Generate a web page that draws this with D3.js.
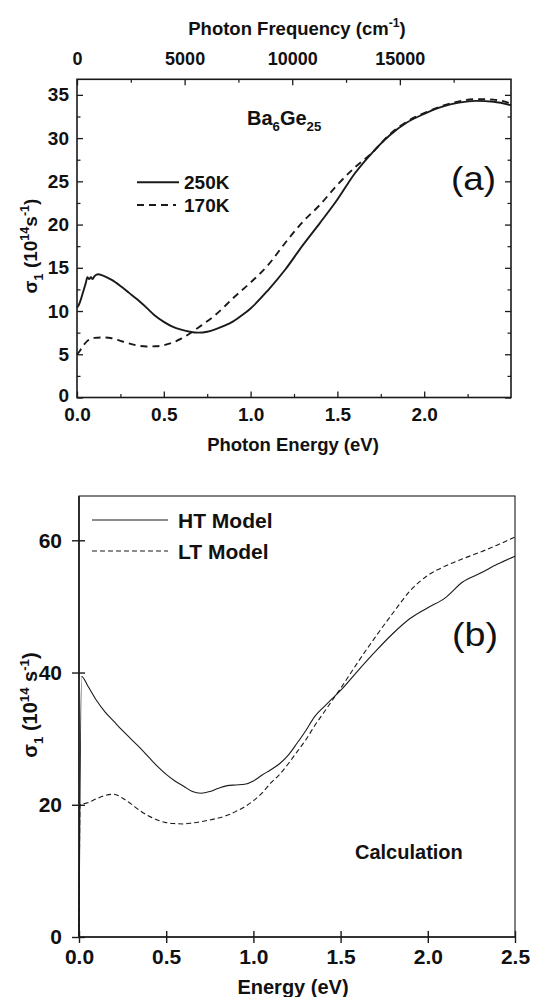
<!DOCTYPE html>
<html>
<head>
<meta charset="utf-8">
<script src="https://cdn.jsdelivr.net/npm/d3@7"></script>
<style>
  body { margin: 0; background: #fff; }
  svg text { font-family: "Liberation Sans", Arial, Helvetica, sans-serif; fill: #111; }
</style>
</head>
<body>
<svg id="chart" width="533" height="997"></svg>
<script>
// ---------- Panel (a): measured optical conductivity of Ba6Ge25 ----------
const energy250K = [0, 0.01, 0.02, 0.035, 0.05, 0.06, 0.07, 0.08, 0.09, 0.1, 0.12, 0.15, 0.2, 0.25, 0.3, 0.35, 0.4, 0.45, 0.5, 0.55, 0.6, 0.65, 0.7, 0.75, 0.8, 0.85, 0.9, 0.95, 1.0, 1.1, 1.2, 1.3, 1.4, 1.5, 1.6, 1.7, 1.8, 1.9, 2.0, 2.1, 2.2, 2.3, 2.4, 2.5];
const sigma250K  = [10.4, 10.7, 11.2, 12.2, 13.2, 13.9, 13.7, 13.9, 13.7, 14.0, 14.25, 14.1, 13.6, 12.9, 12.1, 11.3, 10.4, 9.45, 8.75, 8.2, 7.85, 7.6, 7.5, 7.6, 7.9, 8.3, 8.8, 9.5, 10.3, 12.4, 14.8, 17.6, 20.2, 22.9, 25.9, 28.3, 30.3, 31.8, 32.8, 33.6, 34.1, 34.3, 34.2, 33.8];

const energy170K = [0, 0.02, 0.04, 0.06, 0.08, 0.1, 0.15, 0.2, 0.25, 0.3, 0.35, 0.4, 0.45, 0.5, 0.55, 0.6, 0.65, 0.7, 0.8, 0.9, 1.0, 1.1, 1.2, 1.3, 1.4, 1.5, 1.6, 1.7, 1.8, 1.9, 2.0, 2.1, 2.2, 2.3, 2.4, 2.5];
const sigma170K  = [4.98, 5.5, 6.1, 6.55, 6.8, 6.9, 6.95, 6.85, 6.55, 6.25, 6.0, 5.9, 5.92, 6.05, 6.35, 6.8, 7.4, 8.1, 9.6, 11.5, 13.3, 15.3, 17.9, 20.3, 22.3, 24.6, 26.6, 28.3, 30.4, 31.9, 32.9, 33.7, 34.25, 34.5, 34.45, 34.0];

const energyTicksA = [0, 0.5, 1.0, 1.5, 2.0];
const energyMinorA = [0.25, 0.75, 1.25, 1.75, 2.25];
const sigmaTicksA  = [0, 5, 10, 15, 20, 25, 30, 35];
const sigmaMinorA  = [2.5, 7.5, 12.5, 17.5, 22.5, 27.5, 32.5];
const freqTicks    = [0, 5000, 10000, 15000];
const freqMinor    = [2500, 7500, 12500, 17500];
const legendA      = ["250K", "170K"];

// ---------- Panel (b): model calculation ----------
const energyHT = [0, 0.015, 0.05, 0.1, 0.15, 0.2, 0.25, 0.3, 0.35, 0.4, 0.45, 0.5, 0.55, 0.6, 0.65, 0.7, 0.75, 0.8, 0.85, 0.9, 0.95, 1.0, 1.05, 1.1, 1.15, 1.2, 1.25, 1.3, 1.35, 1.4, 1.45, 1.5, 1.6, 1.7, 1.8, 1.9, 2.0, 2.1, 2.2, 2.3, 2.4, 2.5];
const sigmaHT  = [0, 39.4, 38.0, 35.8, 34.0, 32.6, 31.2, 29.9, 28.6, 27.2, 25.8, 24.6, 23.6, 22.8, 22.0, 21.75, 22.0, 22.5, 22.9, 23.0, 23.1, 23.6, 24.5, 25.3, 26.2, 27.5, 29.3, 31.2, 33.3, 34.7, 36.0, 37.3, 40.3, 43.2, 45.9, 48.2, 49.8, 51.3, 53.7, 55.0, 56.4, 57.6];

const energyLT = [0, 0.006, 0.05, 0.1, 0.15, 0.2, 0.25, 0.3, 0.35, 0.4, 0.45, 0.5, 0.55, 0.6, 0.65, 0.7, 0.75, 0.8, 0.85, 0.9, 0.95, 1.0, 1.05, 1.1, 1.15, 1.2, 1.25, 1.3, 1.35, 1.4, 1.45, 1.5, 1.6, 1.7, 1.8, 1.9, 2.0, 2.1, 2.2, 2.3, 2.4, 2.5];
const sigmaLT  = [0, 20.0, 20.3, 20.9, 21.4, 21.6, 21.0, 20.1, 19.1, 18.3, 17.7, 17.3, 17.15, 17.1, 17.25, 17.45, 17.7, 18.0, 18.4, 19.0, 19.7, 20.6, 21.8, 23.3, 24.6, 26.2, 28.0, 29.8, 31.9, 33.8, 35.7, 37.6, 41.6, 45.4, 49.0, 52.4, 54.7, 56.1, 57.2, 58.2, 59.3, 60.5];

const energyTicksB = [0, 0.5, 1.0, 1.5, 2.0, 2.5];
const sigmaTicksB  = [0, 20, 40, 60];
const legendB      = ["HT Model", "LT Model"];

const CM_PER_EV = 8065.54;
const INK = "#1a1a1a";

const svg = d3.select("#chart");

// text with sub/superscript runs: parts = [[text, "n"|"sup"|"sub"], ...]
function rich(textSel, parts, size) {
  let shift = 0;
  parts.forEach(([t, kind]) => {
    const target = kind === "sup" ? -0.42 * size : kind === "sub" ? 0.3 * size : 0;
    textSel.append("tspan")
      .attr("dy", target - shift)
      .attr("font-size", kind === "n" ? size : size * 0.66)
      .text(t);
    shift = target;
  });
  return textSel;
}

function styleAxis(g, width) {
  g.select(".domain").remove();
  g.selectAll(".tick line").attr("stroke", INK).attr("stroke-width", width);
}

// ================= Panel (a) =================
const xA = d3.scaleLinear().domain([0, 2.5]).range([77, 511]);
const yA = d3.scaleLinear().domain([0, 36.8]).range([397.5, 79.3]);
const xTop = d3.scaleLinear().domain([0, 2.5 * CM_PER_EV]).range([77, 511]);

const gA = svg.append("g");

// bottom axis (inward ticks)
const bA = gA.append("g").attr("transform", `translate(0,${yA(0)})`)
  .call(d3.axisBottom(xA).tickValues(energyTicksA).tickSize(-6).tickPadding(10).tickFormat(d3.format(".1f")));
styleAxis(bA, 1.3);
bA.selectAll("text").attr("font-size", 19).attr("font-weight", "bold").attr("fill", INK).attr("dy", "0.72em");
const bAm = gA.append("g").attr("transform", `translate(0,${yA(0)})`)
  .call(d3.axisBottom(xA).tickValues(energyMinorA).tickSize(-3.5).tickFormat(""));
styleAxis(bAm, 1.2);

// top axis in photon frequency
const tA = gA.append("g").attr("transform", `translate(0,${yA.range()[1]})`)
  .call(d3.axisTop(xTop).tickValues(freqTicks).tickSize(-6).tickPadding(14).tickFormat(d3.format("d")));
styleAxis(tA, 1.3);
tA.selectAll("text").attr("font-size", 18).attr("font-weight", "bold").attr("fill", INK);
const tAm = gA.append("g").attr("transform", `translate(0,${yA.range()[1]})`)
  .call(d3.axisTop(xTop).tickValues(freqMinor).tickSize(-3.5).tickFormat(""));
styleAxis(tAm, 1.2);

// left axis
const lA = gA.append("g").attr("transform", `translate(${xA(0)},0)`)
  .call(d3.axisLeft(yA).tickValues(sigmaTicksA).tickSize(-6).tickPadding(8).tickFormat(d3.format("d")));
styleAxis(lA, 1.3);
lA.selectAll("text").attr("font-size", 19).attr("font-weight", "bold").attr("fill", INK);
lA.selectAll(".tick").filter(d => d === 0).select("text").attr("dy", "0.2em");
const lAm = gA.append("g").attr("transform", `translate(${xA(0)},0)`)
  .call(d3.axisLeft(yA).tickValues(sigmaMinorA).tickSize(-3.5).tickFormat(""));
styleAxis(lAm, 1.2);

// right axis
const rA = gA.append("g").attr("transform", `translate(${xA(2.5)},0)`)
  .call(d3.axisRight(yA).tickValues(sigmaTicksA).tickSize(-6).tickFormat(""));
styleAxis(rA, 1.3);
const rAm = gA.append("g").attr("transform", `translate(${xA(2.5)},0)`)
  .call(d3.axisRight(yA).tickValues(sigmaMinorA).tickSize(-3.5).tickFormat(""));
styleAxis(rAm, 1.2);

// frame
gA.append("rect")
  .attr("x", xA(0)).attr("y", yA.range()[1])
  .attr("width", xA(2.5) - xA(0)).attr("height", yA(0) - yA.range()[1])
  .attr("fill", "none").attr("stroke", INK).attr("stroke-width", 1.6);

const lineA = d3.line().x(d => xA(d[0])).y(d => yA(d[1])).curve(d3.curveMonotoneX);
gA.append("path")
  .datum(d3.zip(energy170K, sigma170K))
  .attr("d", lineA).attr("fill", "none").attr("stroke", INK)
  .attr("stroke-width", 1.9).attr("stroke-dasharray", "7,5");
gA.append("path")
  .datum(d3.zip(energy250K, sigma250K))
  .attr("d", lineA).attr("fill", "none").attr("stroke", INK)
  .attr("stroke-width", 1.9);

// legend (a)
const legA = gA.append("g");
[[182.3, null], [205, "7,5"]].forEach(([y, dash], i) => {
  legA.append("line").attr("x1", 137).attr("x2", i === 0 ? 179 : 176).attr("y1", y).attr("y2", y)
    .attr("stroke", INK).attr("stroke-width", 1.9).attr("stroke-dasharray", dash);
  legA.append("text").attr("x", 184).attr("y", y + 7).attr("font-size", 19)
    .attr("font-weight", "bold").text(legendA[i]);
});

// compound label
rich(gA.append("text").attr("x", 247).attr("y", 125).attr("font-weight", "bold"),
  [["Ba", "n"], ["6", "sub"], ["Ge", "n"], ["25", "sub"]], 20);

gA.append("text").attr("x", 451).attr("y", 190).attr("font-size", 34)
  .attr("textLength", 45).attr("lengthAdjust", "spacingAndGlyphs").text("(a)");

// axis titles (a)
rich(gA.append("text").attr("x", 297).attr("y", 35).attr("text-anchor", "middle").attr("font-weight", "bold"),
  [["Photon Frequency (cm", "n"], ["-1", "sup"], [")", "n"]], 18.5);
gA.append("text").attr("x", 293).attr("y", 451).attr("text-anchor", "middle")
  .attr("font-size", 18.5).attr("font-weight", "bold").text("Photon Energy (eV)");
rich(gA.append("text").attr("transform", "translate(37,246) rotate(-90)")
  .attr("text-anchor", "middle").attr("font-weight", "bold"),
  [["σ", "n"], ["1", "sub"], [" (10", "n"], ["14", "sup"], ["s", "n"], ["-1", "sup"], [")", "n"]], 19);

// ================= Panel (b) =================
const xB = d3.scaleLinear().domain([0, 2.5]).range([79, 515]);
const yB = d3.scaleLinear().domain([0, 66.7]).range([937, 496]);
const gB = svg.append("g");

gB.append("rect")
  .attr("x", xB(0)).attr("y", yB.range()[1])
  .attr("width", xB(2.5) - xB(0)).attr("height", yB(0) - yB.range()[1])
  .attr("fill", "none").attr("stroke", INK).attr("stroke-width", 1.1);

const bB = gB.append("g").attr("transform", `translate(0,${yB(0)})`)
  .call(d3.axisBottom(xB).tickValues(energyTicksB).tickSize(6).tickPadding(6).tickFormat(d3.format(".1f")));
styleAxis(bB, 1.4);
bB.selectAll(".tick line").attr("y1", -6);
bB.selectAll("text").attr("font-size", 21).attr("font-weight", "bold").attr("fill", INK);

const lB = gB.append("g").attr("transform", `translate(${xB(0)},0)`)
  .call(d3.axisLeft(yB).tickValues(sigmaTicksB).tickSize(7).tickPadding(10).tickFormat(d3.format("d")));
styleAxis(lB, 1.4);
lB.selectAll(".tick line").attr("x1", 6);
lB.selectAll("text").attr("font-size", 21).attr("font-weight", "bold").attr("fill", INK);

gB.append("line").attr("x1", xB(0)).attr("x2", xB(2.5)).attr("y1", yB(0)).attr("y2", yB(0))
  .attr("stroke", INK).attr("stroke-width", 1.6);
gB.append("line").attr("x1", xB(0)).attr("x2", xB(0)).attr("y1", yB(0)).attr("y2", yB.range()[1])
  .attr("stroke", INK).attr("stroke-width", 1.6);

const lineB = d3.line().x(d => xB(d[0])).y(d => yB(d[1])).curve(d3.curveMonotoneX);
gB.append("path")
  .datum(d3.zip(energyLT, sigmaLT))
  .attr("d", lineB).attr("fill", "none").attr("stroke", INK)
  .attr("stroke-width", 1.1).attr("stroke-dasharray", "5,3");
gB.append("path")
  .datum(d3.zip(energyHT, sigmaHT))
  .attr("d", lineB).attr("fill", "none").attr("stroke", INK)
  .attr("stroke-width", 1.1);

// legend (b)
const legB = gB.append("g");
[[520, null], [551, "5,3"]].forEach(([y, dash], i) => {
  legB.append("line").attr("x1", 92).attr("x2", 168).attr("y1", y).attr("y2", y)
    .attr("stroke", INK).attr("stroke-width", 1.1).attr("stroke-dasharray", dash);
  legB.append("text").attr("x", 178).attr("y", y + 8).attr("font-size", 21)
    .attr("font-weight", "bold").text(legendB[i]);
});

gB.append("text").attr("x", 452).attr("y", 646).attr("font-size", 34)
  .attr("textLength", 46).attr("lengthAdjust", "spacingAndGlyphs").text("(b)");
gB.append("text").attr("x", 355).attr("y", 859).attr("font-size", 20)
  .attr("font-weight", "bold").text("Calculation");

gB.append("text").attr("x", 293).attr("y", 994).attr("text-anchor", "middle")
  .attr("font-size", 20).attr("font-weight", "bold").text("Energy (eV)");
rich(gB.append("text").attr("transform", "translate(37,705) rotate(-90)")
  .attr("text-anchor", "middle").attr("font-weight", "bold"),
  [["σ", "n"], ["1", "sub"], [" (10", "n"], ["14", "sup"], [" s", "n"], ["-1", "sup"], [")", "n"]], 20);
</script>
</body>
</html>
